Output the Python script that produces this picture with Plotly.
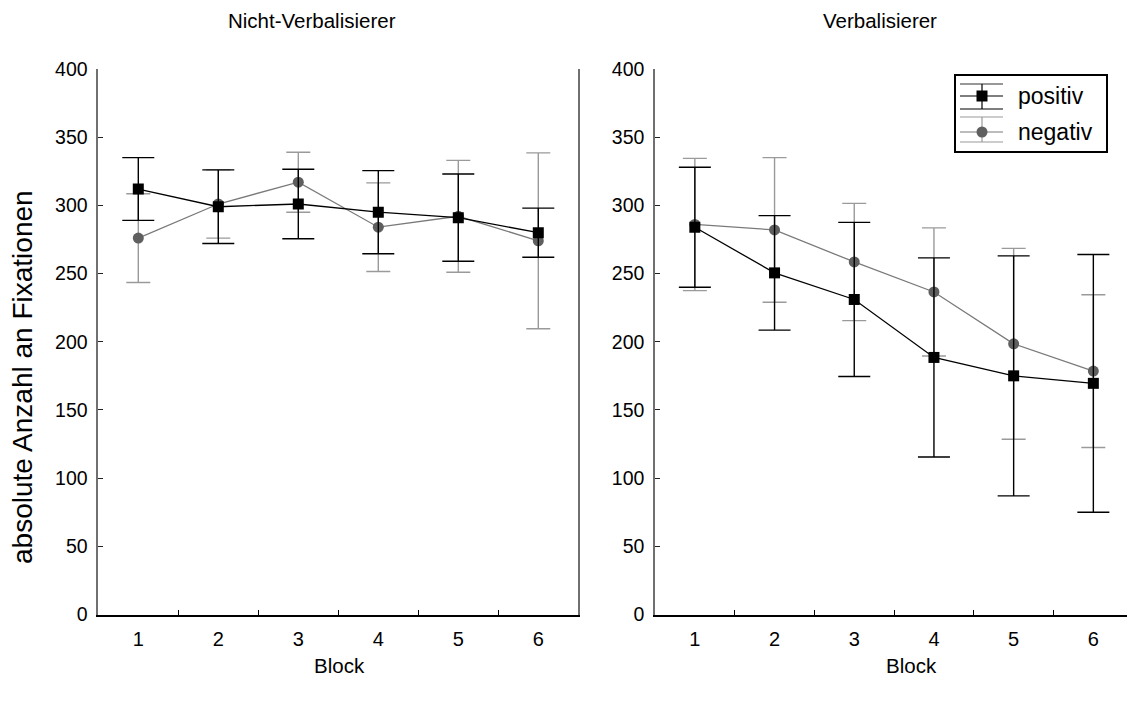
import plotly.graph_objects as go

# ---------------- data ----------------
blocks = [1, 2, 3, 4, 5, 6]
y_ticks = [0, 50, 100, 150, 200, 250, 300, 350, 400]

# Nicht-Verbalisierer
nv_pos_mean = [312, 299, 301, 295, 291, 280]
nv_pos_err = [23, 27, 25.5, 30.5, 32, 18]
nv_neg_mean = [276, 301, 317, 284, 292, 274]
nv_neg_err = [32.5, 25, 22, 32.5, 41, 64.5]

# Verbalisierer
v_pos_mean = [284, 250.5, 231, 188.5, 175, 169.5]
v_pos_err = [44, 42, 56.5, 73, 88, 94.5]
v_neg_mean = [286, 282, 258.5, 236.5, 198.5, 178.5]
v_neg_err = [48.5, 53, 43, 47, 70, 56]

panel_titles = ["Nicht-Verbalisierer", "Verbalisierer"]
x_title = "Block"
y_title = "absolute Anzahl an Fixationen"
series_names = ["positiv", "negativ"]

# ---------------- style ----------------
W, H = 1127, 704
FONT = "Liberation Sans, Arial, sans-serif"
POS_COLOR = "#000000"
NEG_LINE = "#7a7a7a"
NEG_MARK = "#5f5f5f"
NEG_ERR = "#9a9a9a"


def px(x):
    return x / W


def py(y):
    return 1 - y / H


fig = go.Figure()


def add_panel(xa, ya, pos_m, pos_e, neg_m, neg_e):
    fig.add_trace(go.Scatter(
        x=blocks, y=neg_m, xaxis=xa, yaxis=ya, mode="lines+markers",
        name=series_names[1], showlegend=False,
        line=dict(color=NEG_LINE, width=1.3),
        marker=dict(symbol="circle", size=11, color=NEG_MARK),
        error_y=dict(type="data", array=neg_e, visible=True,
                     color=NEG_ERR, thickness=1.4, width=12),
    ))
    fig.add_trace(go.Scatter(
        x=blocks, y=pos_m, xaxis=xa, yaxis=ya, mode="lines+markers",
        name=series_names[0], showlegend=False,
        line=dict(color=POS_COLOR, width=1.3),
        marker=dict(symbol="square", size=11, color=POS_COLOR),
        error_y=dict(type="data", array=pos_e, visible=True,
                     color=POS_COLOR, thickness=1.4, width=16),
    ))


add_panel("x", "y", nv_pos_mean, nv_pos_err, nv_neg_mean, nv_neg_err)
add_panel("x2", "y2", v_pos_mean, v_pos_err, v_neg_mean, v_neg_err)

y_top, y_bot = 69, 614.5
ydom = [py(y_bot), py(y_top)]

xcommon = dict(
    tickmode="array", tickvals=blocks, ticktext=[str(b) for b in blocks],
    ticks="", showgrid=False, zeroline=False, automargin=False,
    showline=True, linecolor="#000000", linewidth=1.5,
    tickfont=dict(family=FONT, size=20, color="#000"),
    ticklabelstandoff=6,
    minor=dict(tickmode="array", tickvals=[1.5, 2.5, 3.5, 4.5, 5.5],
               ticks="inside", ticklen=5, tickcolor="#000", tickwidth=1),
)
ycommon = dict(
    range=[0, 400], tickmode="array", tickvals=y_ticks,
    ticks="inside", ticklen=5, tickcolor="#222", tickwidth=1,
    showgrid=False, zeroline=False, automargin=False,
    showline=True, linecolor="#707070", linewidth=1.5,
    tickfont=dict(family=FONT, size=19.5, color="#000"),
    ticklabelstandoff=5,
)

fig.update_layout(
    width=W, height=H,
    margin=dict(l=0, r=0, t=0, b=0, pad=0, autoexpand=False),
    paper_bgcolor="white", plot_bgcolor="white",
    showlegend=False,
    xaxis=dict(domain=[px(98.3), px(578.3)], range=[0.5, 6.5], anchor="y", **xcommon),
    yaxis=dict(domain=ydom, anchor="x", mirror=True, **ycommon),
    xaxis2=dict(domain=[px(655), 1.0], range=[0.5, 0.5 + (W - 655) / 79.7], anchor="y2", **xcommon),
    yaxis2=dict(domain=ydom, anchor="x2", **ycommon),
)

ann = []
for t, cx in zip(panel_titles, [312, 880]):
    ann.append(dict(text=t, x=px(cx), y=py(21), xref="paper", yref="paper",
                    showarrow=False, xanchor="center", yanchor="middle",
                    font=dict(family=FONT, size=20.5, color="#000")))
for cx in [339, 911]:
    ann.append(dict(text=x_title, x=px(cx), y=py(665), xref="paper", yref="paper",
                    showarrow=False, xanchor="center", yanchor="middle",
                    font=dict(family=FONT, size=20.5, color="#000")))
ann.append(dict(text=y_title, x=px(22), y=py(377), xref="paper", yref="paper",
                showarrow=False, xanchor="center", yanchor="middle", textangle=-90,
                font=dict(family=FONT, size=28, color="#000")))

# legend (manual, drawn as decoration)
ann.append(dict(text=series_names[0], x=px(1016), y=py(96), xref="paper", yref="paper",
                showarrow=False, xanchor="left", yanchor="middle",
                font=dict(family=FONT, size=23, color="#000")))
ann.append(dict(text=series_names[1], x=px(1016), y=py(132), xref="paper", yref="paper",
                showarrow=False, xanchor="left", yanchor="middle",
                font=dict(family=FONT, size=23, color="#000")))

shapes = []


def pline(x0, y0, x1, y1, color, w=1.2):
    shapes.append(dict(type="line", xref="paper", yref="paper",
                       x0=px(x0), y0=py(y0), x1=px(x1), y1=py(y1),
                       line=dict(color=color, width=w)))


shapes.append(dict(type="rect", xref="paper", yref="paper",
                   x0=px(955), y0=py(152), x1=px(1107), y1=py(75),
                   line=dict(color="#000", width=2), fillcolor="rgba(0,0,0,0)"))
# positiv glyph
pline(960, 84, 1003, 84, "#333")
pline(960, 109, 1003, 109, "#000")
pline(960, 96, 1003, 96, "#000")
pline(982, 84, 982, 109, "#000")
shapes.append(dict(type="rect", xref="paper", yref="paper",
                   x0=px(976.5), y0=py(101.5), x1=px(987.5), y1=py(90.5),
                   line=dict(width=0), fillcolor="#000"))
# negativ glyph
pline(960, 117, 1003, 117, NEG_ERR)
pline(960, 142, 1003, 142, NEG_ERR)
pline(960, 132, 1003, 132, NEG_LINE)
pline(982, 117, 982, 142, NEG_ERR)
shapes.append(dict(type="circle", xref="paper", yref="paper",
                   x0=px(976.5), y0=py(137.5), x1=px(987.5), y1=py(126.5),
                   line=dict(width=0), fillcolor=NEG_MARK))

fig.update_layout(annotations=ann, shapes=shapes)

fig.write_html("out.html")
